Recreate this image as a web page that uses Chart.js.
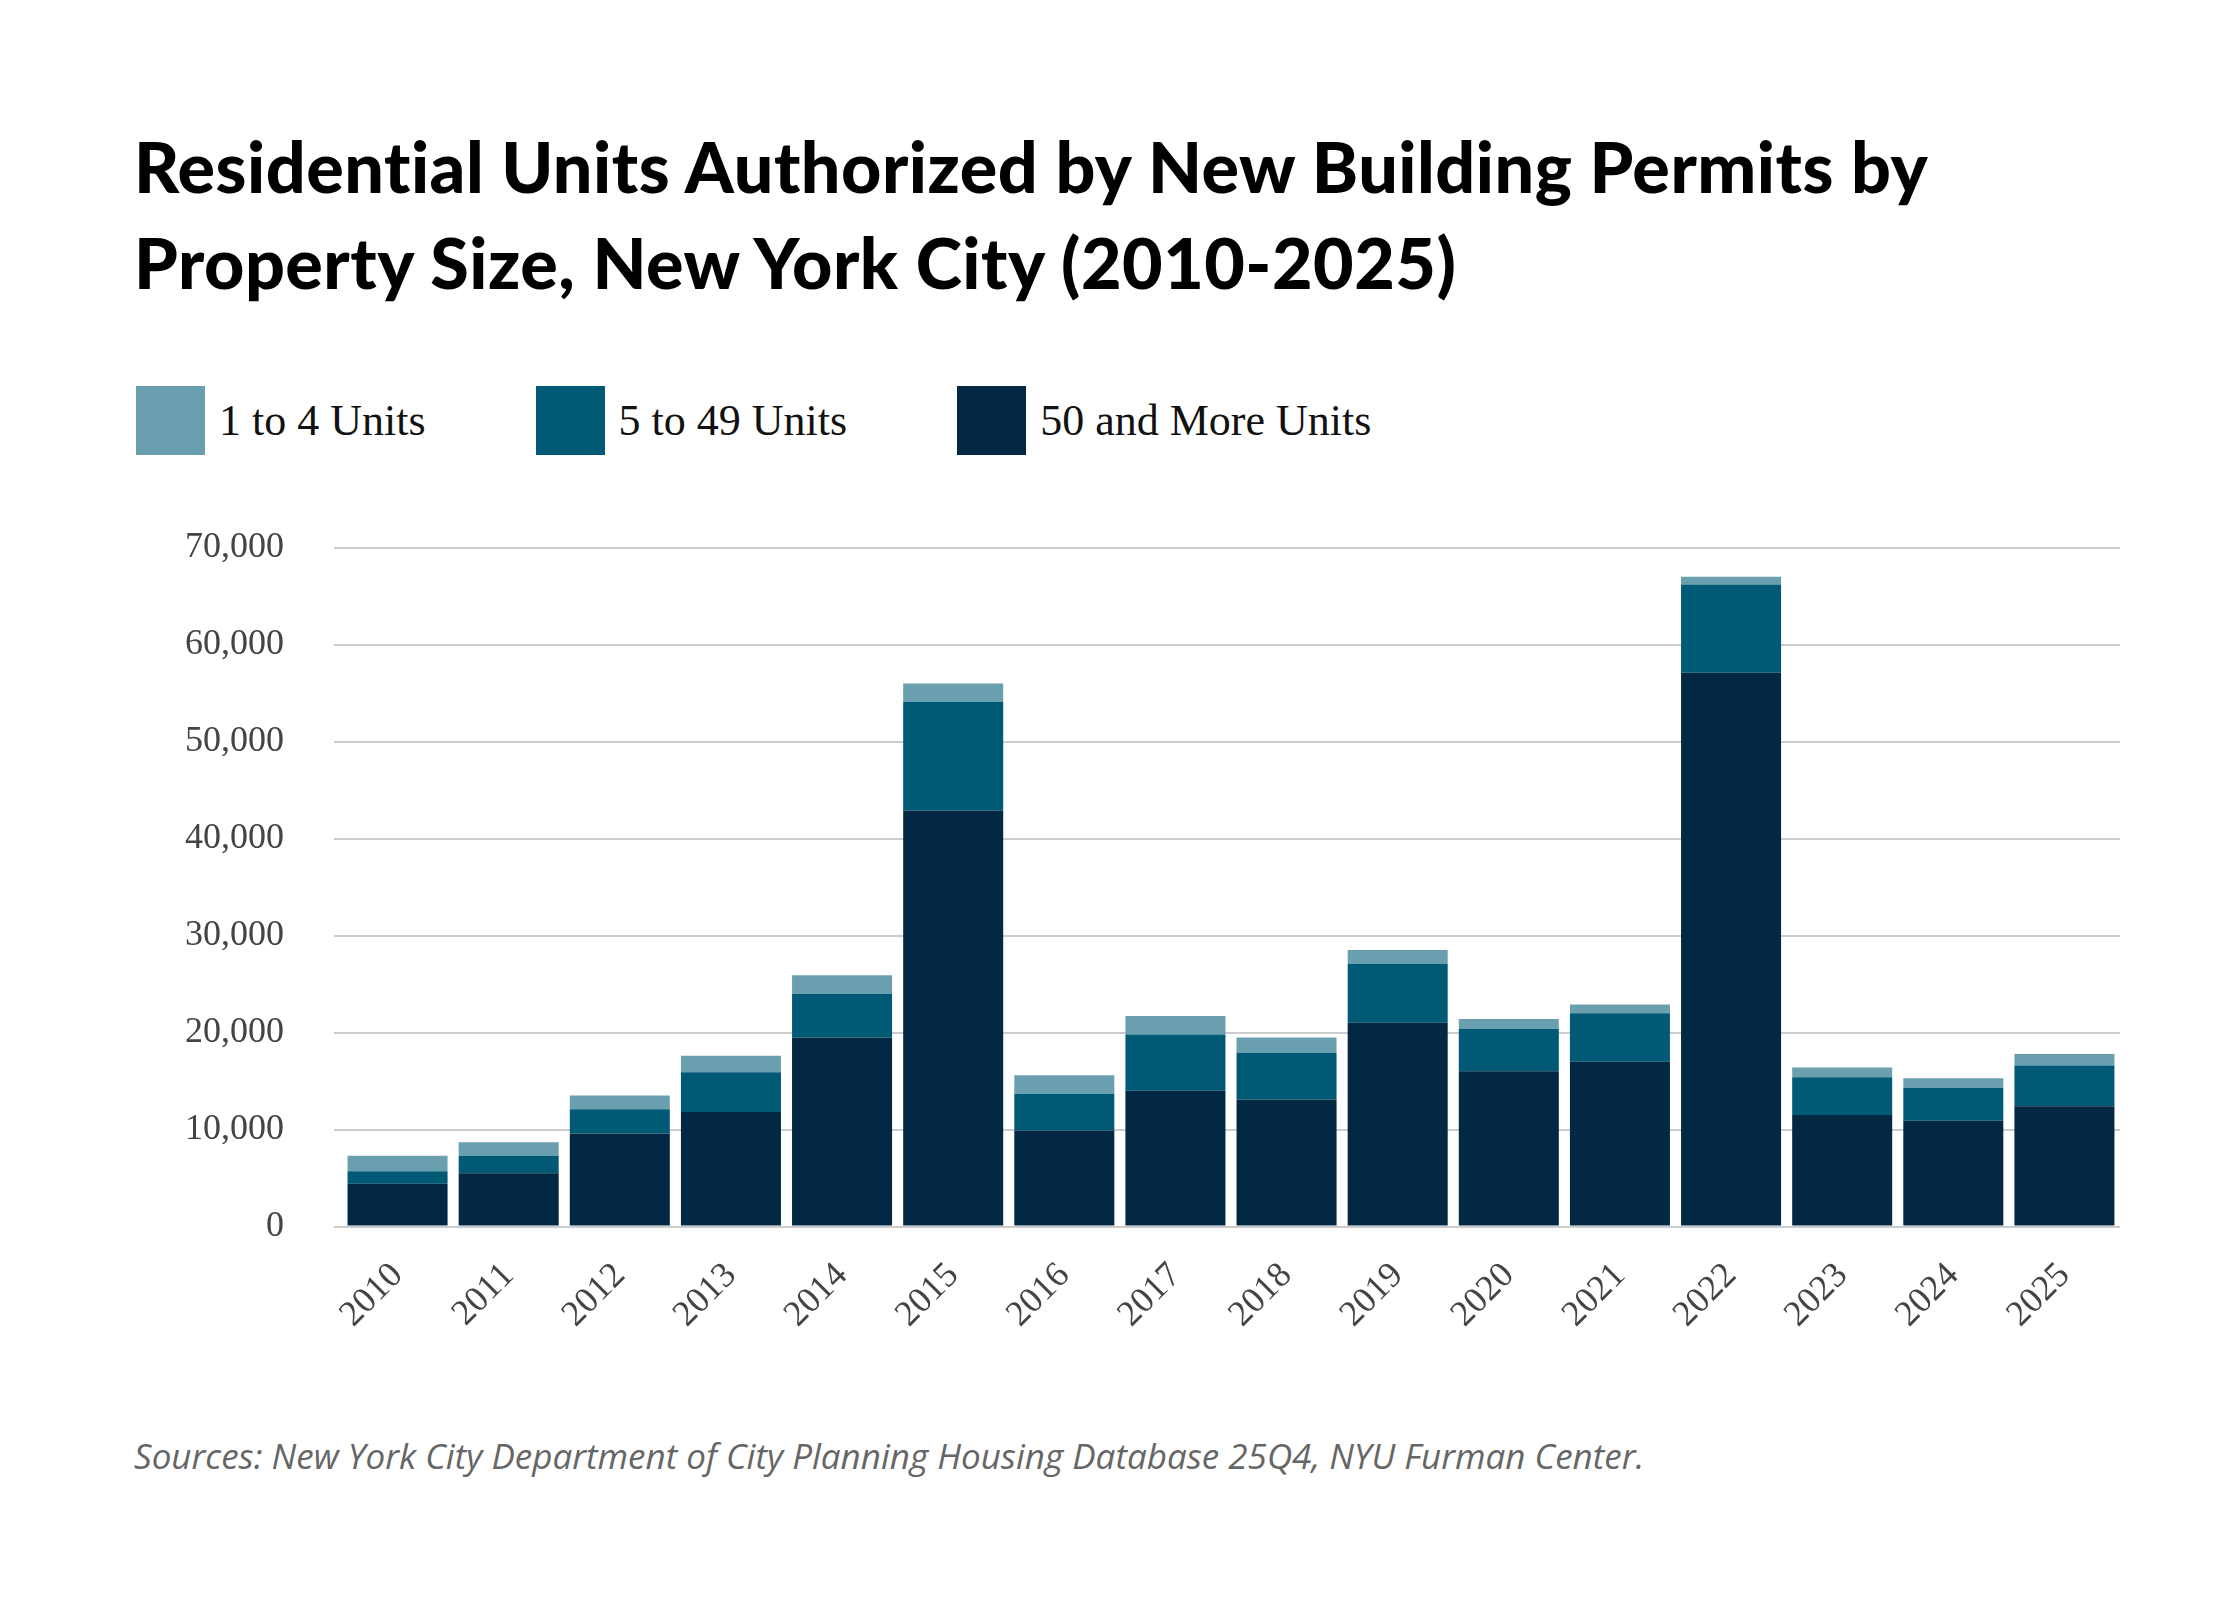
<!DOCTYPE html>
<html><head><meta charset="utf-8">
<script src="https://cdn.jsdelivr.net/npm/chart.js@4"></script>
<style>
body{margin:0;width:2240px;height:1600px;background:#fff;position:relative;font-family:"Liberation Serif",serif;}
#title{position:absolute;left:134px;top:118px;width:2100px;font-family:Lato,"Open Sans",sans-serif;font-weight:900;font-size:70px;line-height:96px;color:#000;letter-spacing:0.5px;}
#legend{position:absolute;left:136px;top:386px;display:flex;font-size:44px;color:#111;}
.item{display:flex;align-items:center;margin-right:110px;}
.sw{width:69px;height:69px;margin-right:14px;}
#wrap{position:absolute;left:125px;top:476px;width:1995px;height:880px;}
#src{position:absolute;left:134px;top:1432px;font-family:"Open Sans",sans-serif;font-style:italic;font-size:35px;color:#666;}
</style></head><body>
<div id="title">Residential Units Authorized by New Building Permits by<br>Property Size, New York City (2010-2025)</div>
<div id="legend"></div>
<div id="wrap"><canvas id="c"></canvas></div>
<div id="src">Sources: New York City Department of City Planning Housing Database 25Q4, NYU Furman Center.</div>
<script>
const years = ['2010','2011','2012','2013','2014','2015','2016','2017','2018','2019','2020','2021','2022','2023','2024','2025'];
const units50plus = [4400,5500,9600,11800,19500,42900,9900,14000,13100,21000,16000,17000,57100,11500,10900,12400];
const units5to49 = [1300,1800,2500,4100,4500,11200,3800,5800,4800,6100,4400,5000,9100,3900,3400,4200];
const units1to4 = [1600,1400,1400,1700,1900,1900,1900,1900,1600,1400,1000,900,800,1000,1000,1200];
const yTicks = [0,10000,20000,30000,40000,50000,60000,70000];

const series = [
  {label:'1 to 4 Units', data:units1to4, color:'#6a9fb0'},
  {label:'5 to 49 Units', data:units5to49, color:'#005a76'},
  {label:'50 and More Units', data:units50plus, color:'#022843'}
];
const lg = document.getElementById('legend');
series.forEach(s => {
  lg.innerHTML += `<div class="item"><div class="sw" style="background:${s.color}"></div>${s.label}</div>`;
});

const tickFont = {family:'Liberation Serif', size:36};
new Chart(document.getElementById('c'), {
  type:'bar',
  data:{
    labels:years,
    datasets:[series[2],series[1],series[0]].map(s => ({
      label:s.label, data:s.data, backgroundColor:s.color, borderWidth:0
    }))
  },
  options:{
    responsive:true, maintainAspectRatio:false, animation:false,
    categoryPercentage:1, barPercentage:0.9,
    layout:{padding:{left:10}},
    plugins:{legend:{display:false}, tooltip:{enabled:false}},
    scales:{
      x:{stacked:true, grid:{display:false}, border:{display:false},
         ticks:{color:'#444', font:tickFont, maxRotation:45, minRotation:45, padding:20}},
      y:{stacked:true, min:0, max:70000, border:{display:false},
         afterBuildTicks: ax => { ax.ticks = yTicks.map(v => ({value:v})); },
         grid:{color:'#cccccc', lineWidth:2},
         ticks:{color:'#444', font:tickFont, padding:50,
                callback:v => v.toLocaleString('en-US')}}
    }
  }
});
</script>
</body></html>
